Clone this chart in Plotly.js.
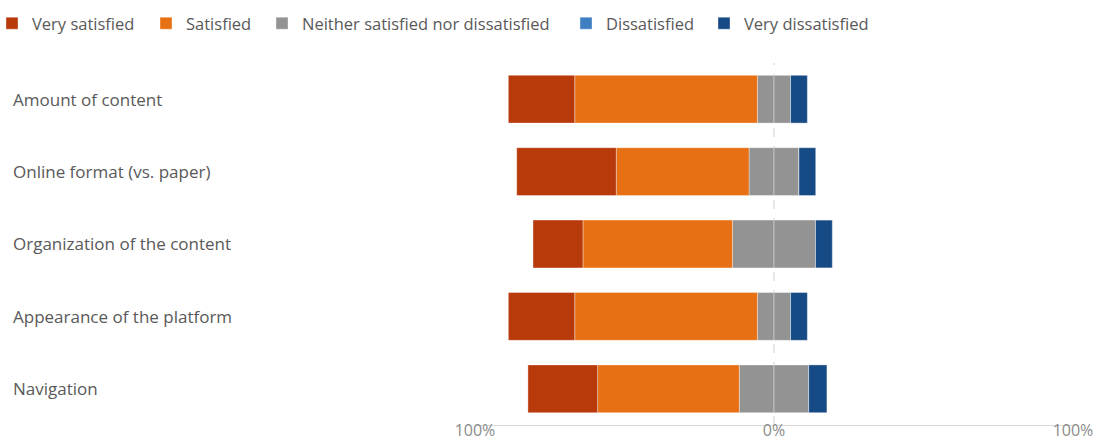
<!DOCTYPE html>
<html>
<head>
<meta charset="utf-8">
<script src="https://cdn.plot.ly/plotly-3.0.1.min.js"></script>
<style>
  html, body { margin: 0; padding: 0; background: #ffffff; }
  #chart { width: 1096px; height: 441px; }
</style>
</head>
<body>
<div id="chart"></div>
<script>
// Categories (top to bottom)
const categories = [
  "Amount of content",
  "Online format (vs. paper)",
  "Organization of the content",
  "Appearance of the platform",
  "Navigation"
];
// Series values (percent of respondents)
const verySatisfied    = [22.2, 33.3, 16.7, 22.2, 23.3];
const satisfied        = [61.1, 44.4, 50.0, 61.1, 47.4];
const neither          = [11.1, 16.7, 27.8, 11.1, 23.2];
const dissatisfied     = [0, 0, 0, 0, 0];
const veryDissatisfied = [5.6, 5.6, 5.6, 5.6, 6.1];
// Series names and tick labels
const seriesNames = ["Very satisfied", "Satisfied", "Neither satisfied nor dissatisfied", "Dissatisfied", "Very dissatisfied"];
const tickValues = [-100, 0, 100];
const tickLabels = ["100%", "0%", "100%"];

const colors = ["#B8390A", "#E87014", "#939393", "#3F7EC0", "#154A84"];
const fontFam = "'Open Sans', 'Noto Sans', sans-serif";
const textColor = "#595959";
const W = 1096, H = 441;

const legendIds = ["legend", "legend2", "legend3", "legend4", "legend5"];
// left edges (px) of each legend entry box
const legendLeft = [-8, 146, 262, 566, 704];

function bar(x, k, showlegend) {
  return {
    type: "bar", orientation: "h",
    x: x, y: categories, name: seriesNames[k],
    marker: { color: colors[k], line: { width: 0.6, color: "rgba(255,255,255,0.6)" } },
    showlegend: showlegend, legend: legendIds[k],
    hoverinfo: "skip"
  };
}

const half = neither.map(v => v / 2);
// stacking order: left side from zero outwards, then right side from zero outwards
const traces = [
  bar(half.map(v => -v), 2, false),
  bar(satisfied.map(v => -v), 1, true),
  bar(verySatisfied.map(v => -v), 0, true),
  bar(half, 2, true),
  bar(dissatisfied, 3, true),
  bar(veryDissatisfied, 4, true)
];

const layout = {
  width: W, height: H,
  margin: { l: 0, r: 0, t: 0, b: 0, autoexpand: false },
  paper_bgcolor: "#ffffff", plot_bgcolor: "#ffffff",
  barmode: "relative",
  bargap: 0.34,
  font: { family: fontFam, size: 16.5, color: textColor },
  showlegend: true,
  xaxis: {
    domain: [475 / W, 1073 / W],
    range: [-100, 100],
    tickmode: "array", tickvals: tickValues, ticktext: tickLabels,
    showgrid: false, zeroline: false,
    showline: true, linecolor: "#d9d9d9", linewidth: 1,
    ticks: "", ticklabelstandoff: -9,
    tickfont: { family: fontFam, size: 16, color: "#8a8a8a" },
    minor: { tickmode: "array", tickvals: [-100, 100], showgrid: true, gridcolor: "#e3e3e3", gridwidth: 1, ticks: "" },
    fixedrange: true
  },
  yaxis: {
    domain: [1 - 425 / H, 1 - 63 / H],
    type: "category",
    autorange: "reversed",
    showticklabels: false,
    showgrid: false, zeroline: false, showline: false, ticks: "",
    fixedrange: true
  },
  shapes: [{
    type: "line", xref: "x", yref: "paper", x0: 0, x1: 0,
    y0: 1 - 425 / H, y1: 1 - 63 / H, layer: "below",
    line: { color: "#d0d0d0", width: 1, dash: "dash" }
  }],
  annotations: categories.map(c => ({
    text: c, xref: "paper", yref: "y", x: 11 / W, y: c,
    xanchor: "left", yanchor: "middle", showarrow: false,
    font: { family: fontFam, size: 17, color: textColor }
  }))
};

legendIds.forEach((id, i) => {
  layout[id] = {
    orientation: "h", x: legendLeft[i] / W, xanchor: "left",
    y: 1 - 6 / H, yanchor: "top",
    bgcolor: "rgba(0,0,0,0)",
    font: { family: fontFam, size: 16.5, color: textColor },
    itemclick: false, itemdoubleclick: false
  };
});

Plotly.newPlot("chart", traces, layout, { displayModeBar: false, staticPlot: true });
</script>
</body>
</html>
